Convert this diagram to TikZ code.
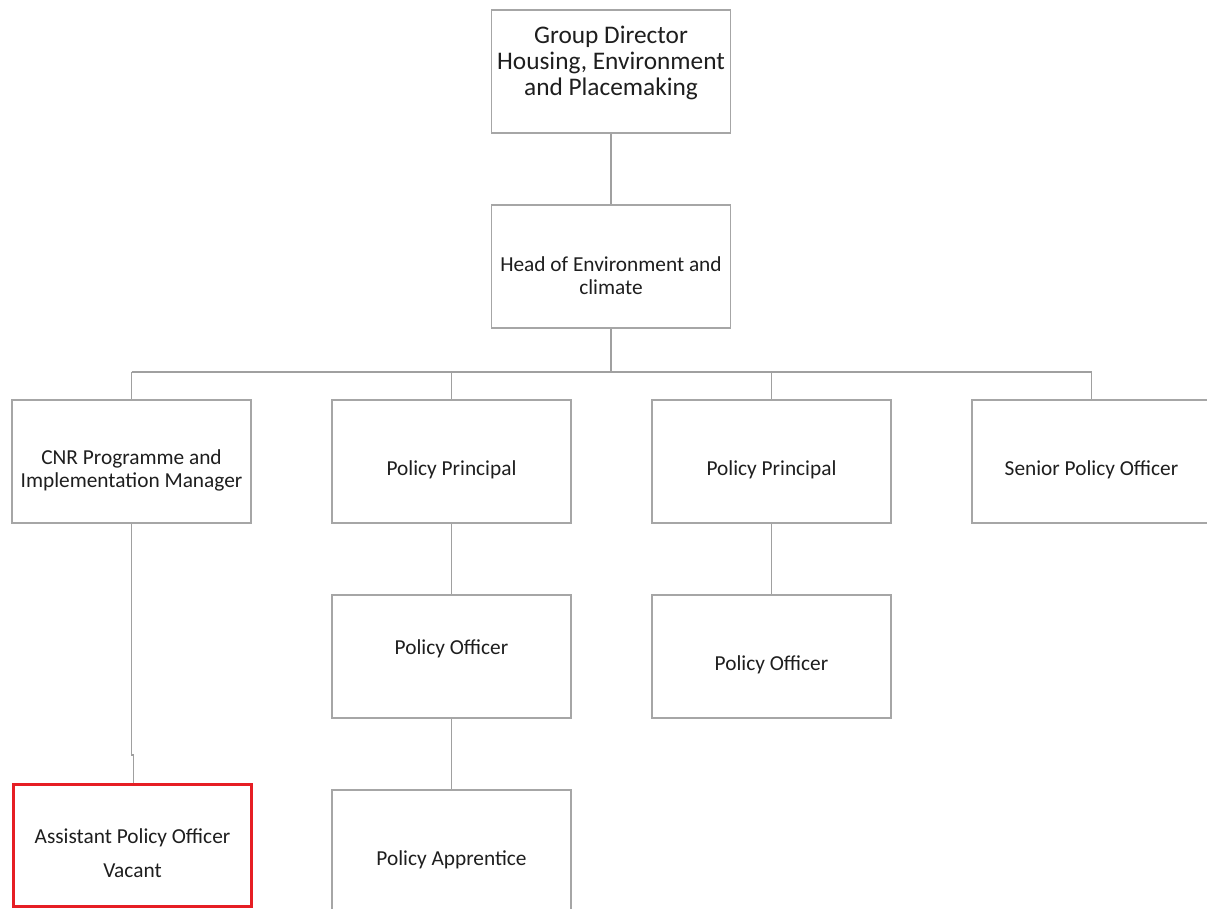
\documentclass[tikz,border=0pt]{standalone}
\usepackage{fontspec}
\setmainfont{Carlito}
\definecolor{boxline}{RGB}{166,166,166}
\definecolor{connline}{RGB}{160,160,160}
\definecolor{txt}{RGB}{30,30,30}
\definecolor{vacred}{RGB}{230,30,36}
\tikzset{
  orgbox/.style={draw=boxline, line width=1pt, fill=white, minimum width=179.25pt, minimum height=92.25pt, inner sep=0pt},
  vacbox/.style={draw=vacred, line width=2.2pt, fill=white, minimum width=178.5pt, minimum height=91.5pt, inner sep=0pt},
  lbl/.style={text=txt, font=\fontsize{16}{17.3}\selectfont, align=center, inner sep=0pt},
  biglbl/.style={text=txt, font=\fontsize{19}{19.5}\selectfont, align=center, inner sep=0pt},
  conn/.style={draw=connline, line width=1.1pt}
}
\begin{document}
\begin{tikzpicture}[x=0.75pt,y=-0.75pt]
\useasboundingbox (0,0) rectangle (1207,908);
\fill[white] (0,0) rectangle (1207,908);
\coordinate (bus) at (611,372);
\coordinate (busL) at (131.5,372);
\coordinate (busR) at (1091.5,372);
\coordinate (j1) at (131.5,755);
\coordinate (j2) at (133.5,755);
% boxes
\node[orgbox] (gd) at (611,71.5) {};
\node[orgbox] (head) at (611,266.5) {};
\node[orgbox] (cnr) at (131.5,461.5) {};
\node[orgbox] (pp1) at (451.5,461.5) {};
\node[orgbox] (pp2) at (771.5,461.5) {};
\node[orgbox] (spo) at (1091.5,461.5) {};
\node[orgbox] (po1) at (451.5,656.5) {};
\node[orgbox] (po2) at (771.5,656.5) {};
\node[orgbox] (pa) at (451.5,851.5) {};
\node[vacbox] (asst) at (132.5,845.5) {};
% connectors
\draw[conn] (gd.south) -- (head.north);
\draw[conn] (head.south) -- (bus);
\draw[conn] (busL) -- (busR);
\draw[conn] (busL) -- (cnr.north);
\draw[conn] (pp1.north |- bus) -- (pp1.north);
\draw[conn] (pp2.north |- bus) -- (pp2.north);
\draw[conn] (busR) -- (spo.north);
\draw[conn] (pp1.south) -- (po1.north);
\draw[conn] (pp2.south) -- (po2.north);
\draw[conn] (po1.south) -- (pa.north);
\draw[conn] (cnr.south) -- (j1) -- (j2) -- (j2 |- asst.north);
% labels
\node[biglbl] (gdt) at (611,63) {Group Director\\Housing, Environment\\and Placemaking};
\node[lbl] (headt) at (611,276) {Head of Environment and\\climate};
\node[lbl] (cnrt) at (131.5,470) {CNR Programme and\\Implementation Manager};
\node[lbl] (pp1t) at (451.5,470) {Policy Principal};
\node[lbl] (pp2t) at (771.5,470) {Policy Principal};
\node[lbl] (spot) at (1091.5,470) {Senior Policy Officer};
\node[lbl] (po1t) at (451.5,649) {Policy Officer};
\node[lbl] (po2t) at (771.5,665) {Policy Officer};
\node[lbl] (pat) at (451.5,860) {Policy Apprentice};
\node[lbl, font=\fontsize{16}{25.5}\selectfont] (asstt) at (132.5,853) {Assistant Policy Officer\\Vacant};
\end{tikzpicture}
\end{document}
